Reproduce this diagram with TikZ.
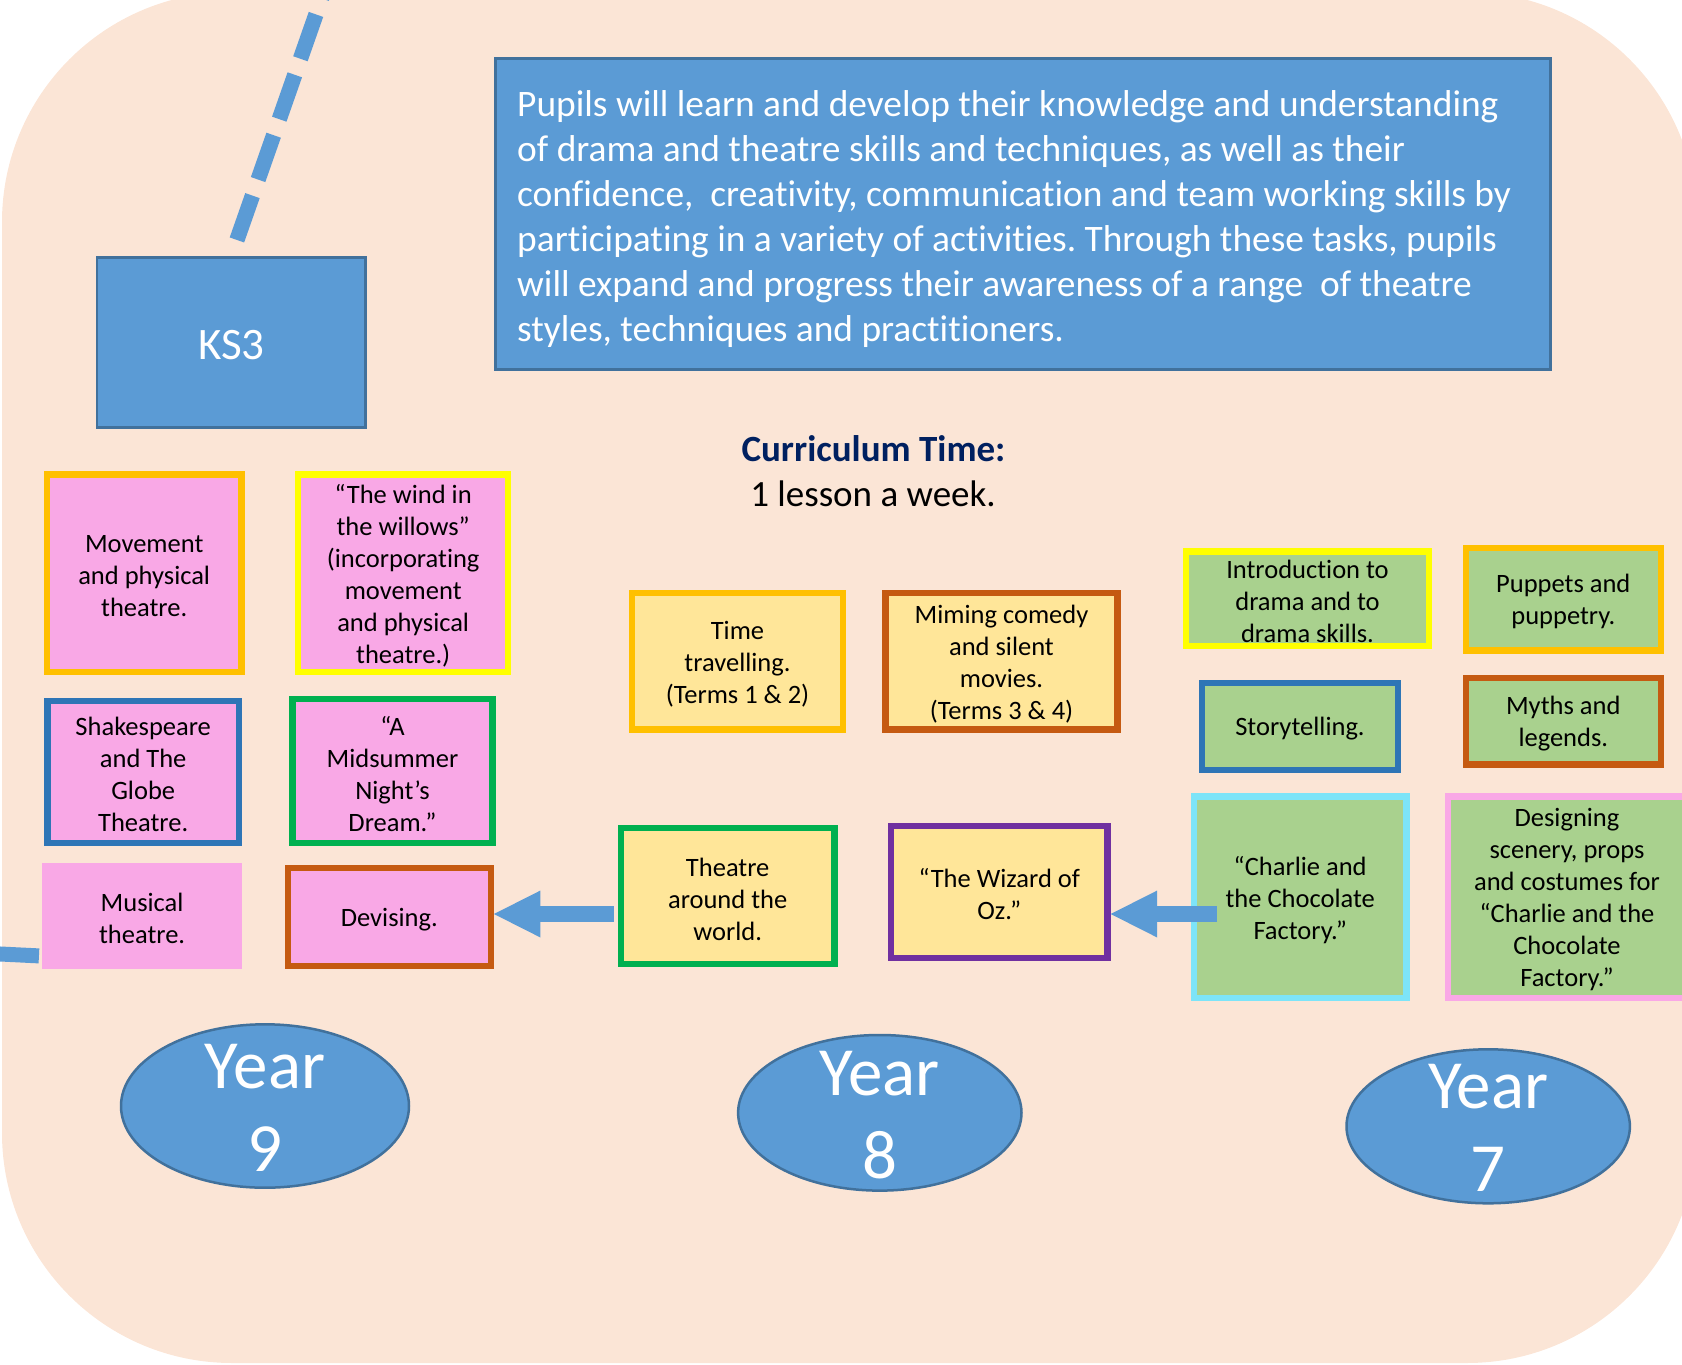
\documentclass[tikz,border=0pt]{standalone}
\usepackage{fontspec}
\setmainfont{Carlito}[Ligatures={NoCommon}]
\frenchspacing
\usetikzlibrary{shapes.geometric,arrows.meta,calc}
\definecolor{peach}{HTML}{FBE5D6}
\definecolor{blueA}{HTML}{5B9BD5}
\definecolor{blueB}{HTML}{41719C}
\definecolor{pinkF}{HTML}{F9A8E6}
\definecolor{yelF}{HTML}{FFE699}
\definecolor{grnF}{HTML}{A9D18E}
\definecolor{cOrange}{HTML}{FFC000}
\definecolor{cYellow}{HTML}{FFFF00}
\definecolor{cBlue}{HTML}{2E75B6}
\definecolor{cGreen}{HTML}{00B050}
\definecolor{cBrown}{HTML}{C55A11}
\definecolor{cPurple}{HTML}{7030A0}
\definecolor{cCyan}{HTML}{7DE4F8}
\definecolor{navy}{HTML}{002060}
\begin{document}
\begin{tikzpicture}[x=1pt,y=-1pt,
  topicbox/.style={rectangle, inner sep=0pt, line width=6.3pt},
  topictext/.style={align=center, inner sep=0pt, text=black, font=\fontsize{26.5}{32}\selectfont},
  pinkbox/.style={topicbox, fill=pinkF},
  yelbox/.style={topicbox, fill=yelF},
  grnbox/.style={topicbox, fill=grnF},
  bluebox/.style={rectangle, draw=blueB, fill=blueA, line width=2.8pt, inner sep=0pt, text=white},
  yearell/.style={ellipse, draw=blueB, fill=blueA, line width=2.5pt, inner sep=0pt},
  yeartext/.style={text=white, font=\fontsize{69}{83}\selectfont, align=center, inner sep=0pt},
  bigarrow/.style={draw=blueA, line width=16pt, -{Triangle[length=46.5pt,width=47pt,line width=0pt]}},
  bluestroke/.style={draw=blueA, line width=15.3pt}
]
\useasboundingbox (0,0) rectangle (1682,1365);
\clip (0,0) rectangle (1682,1365);
% background
\fill[peach, rounded corners=230pt] (2,-8) rectangle (1697,1363);

% KS3 and dashed connector
\node[bluebox, minimum width=268.6pt, minimum height=170.2pt, font=\fontsize{45}{54}\selectfont,
  execute at begin node={\rule[-7pt]{0pt}{47pt}}] (ks3) at (231.3,342.5) {KS3};
\coordinate (ksend) at (337.5,-47);
\draw[bluestroke, dash pattern=on 47pt off 17pt, dash phase=47pt] (ks3.north) -- (ksend);

% description
\node[bluebox, minimum width=1055.2pt, minimum height=310.9pt] (desc) at (1023,214.2) {};
\node[text=white, font=\fontsize{37.4}{45}\selectfont, align=left, inner sep=0pt, anchor=west] (desct)
  at ([xshift=23pt, yshift=-4.8pt]desc.west)
  {Pupils will learn and develop their knowledge and understanding\\
   of drama and theatre skills and techniques, as well as their\\
   confidence, \ creativity, communication and team working skills by\\
   participating in a variety of activities. Through these tasks, pupils\\
   will expand and progress their awareness of a range \ of theatre\\
   styles, techniques and practitioners.};

% curriculum time
\node[font=\fontsize{37}{45}\selectfont\bfseries, text=navy, anchor=base, inner sep=0pt] (cur) at (873.5,461.7) {Curriculum Time:};
\node[font=\fontsize{37}{45}\selectfont, text=black, anchor=base, inner sep=0pt] (les) at (873,506.5) {1 lesson a week.};

% Year 9 topics
\node[pinkbox, draw=cOrange, minimum width=194.8pt, minimum height=197.2pt] (mov) at (144.2,573.2) {};
\node[topictext] (movt) at ([yshift=-2.7pt]mov.center) {Movement\\and physical\\theatre.};
\node[pinkbox, draw=cYellow, minimum width=210pt, minimum height=197.2pt] (wind) at (403.2,573.2) {};
\node[topictext] (windt) at ([yshift=-2.7pt]wind.center) {“The wind in\\the willows”\\(incorporating\\movement\\and physical\\theatre.)};
\node[pinkbox, draw=cBlue, minimum width=191.3pt, minimum height=142.5pt] (shak) at (143.2,772) {};
\node[topictext] (shakt) at ([yshift=-2.7pt]shak.center) {Shakespeare\\and The\\Globe\\Theatre.};
\node[pinkbox, draw=cGreen, minimum width=200pt, minimum height=144pt] (mids) at (392.5,771) {};
\node[topictext] (midst) at ([yshift=-2.7pt]mids.center) {“A\\Midsummer\\Night’s\\Dream.”};
\node[pinkbox, minimum width=200pt, minimum height=105.6pt] (mus) at (142.1,915.9) {};
\node[topictext] (must) at ([yshift=-2.7pt]mus.center) {Musical\\theatre.};
\node[pinkbox, draw=cBrown, minimum width=203pt, minimum height=98pt] (dev) at (389.3,917) {};
\node[topictext] (devt) at ([yshift=-2.7pt]dev.center) {Devising.};

% Year 8 topics
\node[yelbox, draw=cOrange, minimum width=211.4pt, minimum height=136.3pt] (time) at (737.5,661.2) {};
\node[topictext] (timet) at ([yshift=-2.7pt]time.center) {Time\\travelling.\\(Terms 1 \& 2)};
\node[yelbox, draw=cBrown, minimum width=232.1pt, minimum height=136.3pt] (mim) at (1001.5,661.2) {};
\node[topictext] (mimt) at ([yshift=-2.7pt]mim.center) {Miming comedy\\and silent\\movies.\\(Terms 3 \& 4)};
\node[yelbox, draw=cGreen, minimum width=213.3pt, minimum height=136pt] (thea) at (727.7,896.3) {};
\node[topictext] (theat) at ([yshift=-2.7pt]thea.center) {Theatre\\around the\\world.};
\node[yelbox, draw=cPurple, minimum width=216.5pt, minimum height=132pt] (wiz) at (999.3,891.7) {};
\node[topictext] (wizt) at ([yshift=-2.7pt]wiz.center) {“The Wizard of\\Oz.”};

% Year 7 topics
\node[grnbox, draw=cYellow, minimum width=242.4pt, minimum height=94.7pt] (intro) at (1307.5,598.7) {};
\node[topictext] (introt) at ([yshift=-2.7pt]intro.center) {Introduction to\\drama and to\\drama skills.};
\node[grnbox, draw=cOrange, minimum width=195.3pt, minimum height=102.3pt] (pup) at (1563.3,599.2) {};
\node[topictext] (pupt) at ([yshift=-2.7pt]pup.center) {Puppets and\\puppetry.};
\node[grnbox, draw=cBlue, minimum width=195.4pt, minimum height=86.7pt] (story) at (1300,726.3) {};
\node[topictext] (storyt) at ([yshift=-2.7pt]story.center) {Storytelling.};
\node[grnbox, draw=cBrown, minimum width=195.3pt, minimum height=86.3pt] (myth) at (1563.3,721.2) {};
\node[topictext] (mytht) at ([yshift=-2.7pt]myth.center) {Myths and\\legends.};
\node[grnbox, draw=cCyan, minimum width=212.3pt, minimum height=201.7pt] (charlie) at (1300.2,897.2) {};
\node[topictext] (charliet) at ([yshift=-2.7pt]charlie.center) {“Charlie and\\the Chocolate\\Factory.”};
\node[grnbox, draw=pinkF, minimum width=237.4pt, minimum height=201.7pt] (design) at (1567,897.2) {};
\node[topictext] (designt) at ([yshift=-2.7pt]design.center) {Designing\\scenery, props\\and costumes for\\“Charlie and the\\Chocolate\\Factory.”};

% left connector stub
\coordinate (lstart) at (-40,952);
\coordinate (lend) at ([yshift=-40pt]mus.west);
\draw[draw=blueA, line width=15pt] (lstart) -- (lend);

% arrows
\coordinate (a1s) at ([xshift=-4.3pt, yshift=-17.7pt]thea.west);
\draw[bigarrow] (a1s) -- (a1s -| dev.east);
\coordinate (a2s) at ([xshift=26.3pt, yshift=-16.8pt]charlie.west);
\draw[bigarrow] (a2s) -- (a2s -| wiz.east);

% Year ellipses
\node[yearell, minimum width=288pt, minimum height=163.4pt] (y9) at (265,1106) {};
\node[yeartext] (y9t) at ([yshift=-2pt]y9.center) {Year\\9};
\node[yearell, minimum width=283.4pt, minimum height=155.6pt] (y8) at (879.8,1112.8) {};
\node[yeartext] (y8t) at ([yshift=-2pt]y8.center) {Year\\8};
\node[yearell, minimum width=283.4pt, minimum height=154pt] (y7) at (1488.2,1126.3) {};
\node[yeartext] (y7t) at ([yshift=-1.5pt]y7.center) {Year\\7};
\end{tikzpicture}
\end{document}
